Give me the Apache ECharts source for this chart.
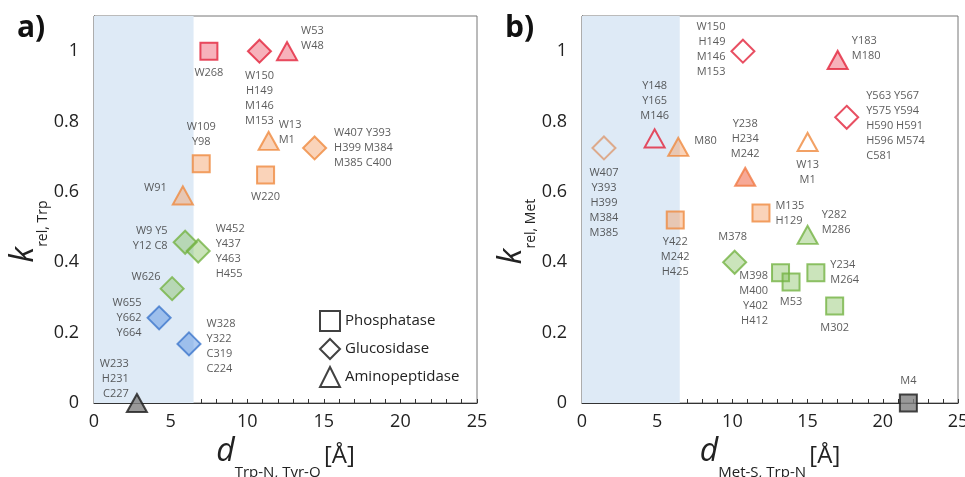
<!DOCTYPE html>
<html>
<head>
<meta charset="utf-8">
<script src="https://cdn.jsdelivr.net/npm/echarts@6/dist/echarts.min.js"></script>
<style>html,body{margin:0;background:#fff}#chart{width:965px;height:477px}</style>
</head>
<body>
<div id="chart"></div>
<script>
// panel a) k_rel,Trp against d(Trp-N, Tyr-O)
var aNames = ['W268', 'W150\nH149\nM146\nM153', 'W53\nW48', 'W13\nM1', 'W407 Y393\nH399 M384\nM385 C400',
  'W109\nY98', 'W220', 'W91', 'W9 Y5\nY12 C8', 'W452\nY437\nY463\nH455', 'W626', 'W655\nY662\nY664',
  'W328\nY322\nC319\nC224', 'W233\nH231\nC227'];
var aType = ['P', 'G', 'A', 'A', 'G', 'P', 'P', 'A', 'G', 'G', 'G', 'G', 'G', 'A'];
var aX = [7.5, 10.8, 12.6, 11.4, 14.4, 7.0, 11.2, 5.8, 5.95, 6.8, 5.1, 4.25, 6.2, 2.8];
var aY = [1.0, 1.0, 1.0, 0.745, 0.725, 0.68, 0.648, 0.59, 0.457, 0.432, 0.325, 0.242, 0.168, 0];
var aGroup = ['red', 'red', 'red', 'orange', 'orange', 'orange', 'orange', 'orange', 'green', 'green', 'green', 'blue', 'blue', 'gray'];
var aFilled = [1, 1, 1, 1, 1, 1, 1, 1, 1, 1, 1, 1, 1, 1];

// panel b) k_rel,Met against d(Met-S, Trp-N)
var bNames = ['W407\nY393\nH399\nM384\nM385', 'Y148\nY165\nM146', 'M80', 'W150\nH149\nM146\nM153', 'Y183\nM180',
  'Y563 Y567\nY575 Y594\nH590 H591\nH596 M574\nC581', 'W13\nM1', 'Y238\nH234\nM242', 'M135\nH129', 'Y422\nM242\nH425',
  'Y282\nM286', 'M378', 'M398\nM400\nY402\nH412', 'M53', 'Y234\nM264', 'M302', 'M4'];
var bType = ['G', 'A', 'A', 'G', 'A', 'G', 'A', 'A', 'P', 'P', 'A', 'G', 'P', 'P', 'P', 'P', 'P'];
var bX = [1.46, 4.83, 6.4, 10.7, 17.0, 17.6, 15.0, 10.85, 11.9, 6.2, 15.0, 10.15, 13.2, 13.9, 15.55, 16.8, 21.7];
var bY = [0.725, 0.752, 0.728, 1.0, 0.975, 0.812, 0.742, 0.643, 0.54, 0.52, 0.478, 0.4, 0.37, 0.344, 0.37, 0.276, 0];
var bGroup = ['tan', 'red', 'orange', 'red', 'red', 'red', 'orange', 'coral', 'orange', 'orange', 'green', 'green', 'green', 'green', 'green', 'green', 'gray'];
var bFilled = [0, 0, 1, 0, 1, 0, 0, 1, 1, 1, 1, 1, 1, 1, 1, 1, 1];

var typeNames = { P: 'Phosphatase', G: 'Glucosidase', A: 'Aminopeptidase' };
var xTicks = [0, 5, 10, 15, 20, 25];
var yTicks = [0, 0.2, 0.4, 0.6, 0.8, 1];
var shadeMax = 6.5;

// label placement: [position, dx, dy]
var aLabelPos = [['bottom', 0, 0], ['bottom', 0, 0], ['right', -2, -13], ['right', -6, -9], ['right', 2, 0],
  ['top', 0, 0], ['bottom', 0, 0], ['left', 0, -8], ['left', 0, -4], ['right', 0, 0], ['left', 6, -12],
  ['left', 0, 0], ['right', 0, 2], ['left', 8, -24]];
var bLabelPos = [['bottom', 0, 0], ['top', 0, 0], ['right', 0, -6], ['left', 0, -2], ['right', -2, -12],
  ['right', 2, 9], ['bottom', 0, 0], ['top', 0, 0], ['right', 0, 0], ['bottom', 0, 0], ['right', -2, -12],
  ['top', -2, 0], ['left', 2, 26], ['bottom', 0, -2], ['right', 0, 0], ['bottom', 0, 0], ['top', 0, 0]];

var palette = {
  red: { stroke: '#e2233b', fill: 'rgba(236,80,100,0.55)' },
  orange: { stroke: '#ef8a3f', fill: 'rgba(244,155,95,0.55)' },
  tan: { stroke: '#dc9a72', fill: 'rgba(230,160,120,0.5)' },
  coral: { stroke: '#f07a45', fill: 'rgba(241,112,82,0.75)' },
  green: { stroke: '#74b343', fill: 'rgba(125,188,85,0.5)' },
  blue: { stroke: '#3d77cc', fill: 'rgba(85,145,225,0.6)' },
  gray: { stroke: '#1c1c1c', fill: '#7f7f7f' }
};
var shapes = {
  P: { symbol: 'rect', size: 17 },
  G: { symbol: 'diamond', size: 23 },
  A: { symbol: 'triangle', size: [20, 18] }
};
var FONT = '"Open Sans", sans-serif';

function buildSeries(names, types, xs, ys, groups, filled, pos, gi, suffix) {
  return ['P', 'G', 'A'].map(function (t, k) {
    var data = [];
    for (var i = 0; i < names.length; i++) {
      if (types[i] !== t) continue;
      var c = palette[groups[i]];
      var p = pos[i];
      data.push({
        value: [xs[i], ys[i]],
        itemStyle: { color: filled[i] ? c.fill : 'rgba(255,255,255,0)', borderColor: c.stroke, borderWidth: 2 },
        label: { show: true, formatter: names[i], position: p[0], offset: [p[1], p[2]], distance: 5 }
      });
    }
    var s = {
      name: typeNames[t] + suffix,
      type: 'scatter',
      xAxisIndex: gi,
      yAxisIndex: gi,
      symbol: shapes[t].symbol,
      symbolSize: shapes[t].size,
      clip: false,
      label: { fontSize: 11, lineHeight: 15, color: '#333', fontFamily: FONT },
      emphasis: { disabled: true },
      data: data
    };
    if (k === 0) {
      s.markArea = {
        silent: true,
        itemStyle: { color: '#deeaf6' },
        data: [[{ xAxis: 0 }, { xAxis: shadeMax }]]
      };
    }
    return s;
  });
}

function onTick(list) {
  return function (v) {
    for (var i = 0; i < list.length; i++) if (Math.abs(v - list[i]) < 1e-6) return String(list[i]);
    return '';
  };
}

function xAxisCfg(gi, sub) {
  return {
    type: 'value', gridIndex: gi, min: 0, max: 25, interval: 1,
    axisLine: { show: true, lineStyle: { color: '#333', width: 1.2 } },
    axisTick: { inside: true, length: 4, lineStyle: { color: '#333' } },
    splitLine: { show: false },
    axisLabel: { interval: 0, formatter: onTick(xTicks), fontSize: 18, color: '#222', margin: 10, fontFamily: FONT },
    name: '{d|d}{s|' + sub + '} {u|[Å]}',
    nameLocation: 'middle', nameGap: 30,
    nameTextStyle: {
      rich: {
        d: { fontSize: 32, fontStyle: 'italic', fontFamily: FONT, color: '#222', verticalAlign: 'bottom', lineHeight: 34 },
        s: { fontSize: 15, fontFamily: FONT, color: '#222', verticalAlign: 'bottom', lineHeight: 22, padding: [0, 0, -12, 0] },
        u: { fontSize: 24, fontFamily: FONT, color: '#222', verticalAlign: 'bottom', lineHeight: 30 }
      }
    }
  };
}

function yAxisCfg(gi, sub) {
  return {
    type: 'value', gridIndex: gi, min: 0, max: 1.1, interval: 0.05,
    axisLine: { show: true, lineStyle: { color: '#333', width: 1.2 } },
    axisTick: { inside: true, length: 4, lineStyle: { color: '#333' } },
    splitLine: { show: false },
    axisLabel: { interval: 0, formatter: onTick(yTicks), fontSize: 18, color: '#222', margin: 15, fontFamily: FONT },
    name: '{k|k}{s|' + sub + '}',
    nameLocation: 'middle', nameGap: 48, nameRotate: 90,
    nameTextStyle: {
      padding: [0, 44, 0, 0],
      rich: {
        k: { fontSize: 32, fontStyle: 'italic', fontFamily: FONT, color: '#222', verticalAlign: 'bottom', lineHeight: 34 },
        s: { fontSize: 14, fontFamily: FONT, color: '#222', verticalAlign: 'bottom', lineHeight: 20, padding: [0, 0, -10, 0] }
      }
    }
  };
}

var chart = echarts.init(document.getElementById('chart'));
chart.setOption({
  backgroundColor: '#fff',
  animation: false,
  title: [
    { text: 'a)', left: 12, top: 8, textStyle: { fontSize: 30, fontWeight: 'bold', color: '#111', fontFamily: FONT } },
    { text: 'b)', left: 500, top: 8, textStyle: { fontSize: 30, fontWeight: 'bold', color: '#111', fontFamily: FONT } }
  ],
  legend: {
    orient: 'vertical', left: 314, top: 305,
    itemWidth: 20, itemHeight: 20, itemGap: 6,
    textStyle: { fontSize: 15, color: '#222', fontFamily: FONT },
    itemStyle: { color: 'rgba(255,255,255,0)', borderColor: '#111', borderWidth: 2 },
    selectedMode: false,
    data: [
      { name: 'Phosphatase', icon: 'rect' },
      { name: 'Glucosidase', icon: 'diamond' },
      { name: 'Aminopeptidase', icon: 'triangle' }
    ]
  },
  grid: [
    { left: 94, top: 16, width: 383, height: 387, show: true, borderColor: '#777', borderWidth: 1, backgroundColor: '#fff', outerBoundsMode: 'none', containLabel: false },
    { left: 582, top: 16, width: 376, height: 387, show: true, borderColor: '#777', borderWidth: 1, backgroundColor: '#fff', outerBoundsMode: 'none', containLabel: false }
  ],
  xAxis: [xAxisCfg(0, 'Trp-N, Tyr-O'), xAxisCfg(1, 'Met-S, Trp-N')],
  yAxis: [yAxisCfg(0, 'rel, Trp'), yAxisCfg(1, 'rel, Met')],
  series: buildSeries(aNames, aType, aX, aY, aGroup, aFilled, aLabelPos, 0, '')
    .concat(buildSeries(bNames, bType, bX, bY, bGroup, bFilled, bLabelPos, 1, ' (b)'))
});
</script>
</body>
</html>
